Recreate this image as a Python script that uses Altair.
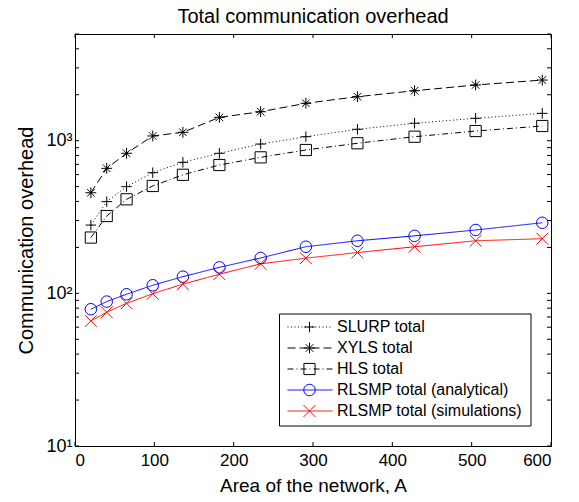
import altair as alt
import pandas as pd

# ---- data ----
area = [20, 40, 65, 98, 136, 182, 234, 291, 356, 428, 505, 589]
slurp = [280, 399, 500, 617, 722, 827, 951, 1062, 1188, 1301, 1402, 1511]
xyls = [456, 659, 827, 1074, 1135, 1422, 1548, 1758, 1942, 2125, 2317, 2496]
hls = [232, 321, 413, 505, 598, 693, 778, 869, 962, 1062, 1157, 1248]
rlsmp_an = [78.7, 88.3, 98.7, 113, 128.6, 148, 170.5, 202, 221, 238, 260, 290]
rlsmp_sim = [65.9, 75.2, 86, 99.5, 114.8, 133.5, 156, 170, 185, 202, 221, 228]

series = ["SLURP total", "XYLS total", "HLS total",
          "RLSMP total (analytical)", "RLSMP total (simulations)"]
legend_labels = ["SLURP total", "XYLS total", "\u00a0HLS total",
                 "RLSMP total (analytical)", "RLSMP total (simulations)"]
values = [slurp, xyls, hls, rlsmp_an, rlsmp_sim]

title_text = ["Total communication overhead"]

x_ticks = [0, 100, 200, 300, 400, 500, 600]
y_minor = [10, 20, 30, 40, 50, 60, 70, 80, 90,
           100, 200, 300, 400, 500, 600, 700, 800, 900,
           1000, 2000, 3000, 4000, 5000]

# ---- styles ----
colors = ["#000000", "#000000", "#000000", "#0000ff", "#ff0000"]
dashes = [[1, 2.5], [8, 4], [6, 3, 1, 3], [1, 0], [1, 0]]
plus = "M-1,0L1,0M0,-1L0,1"
star = "M-1,0L1,0M0,-1L0,1M-0.7,-0.7L0.7,0.7M-0.7,0.7L0.7,-0.7"
xmark = "M-1,-1L1,1M-1,1L1,-1"
shapes = [plus, star, "square", "circle", xmark]
sizes = [110, 140, 90, 160, 90]

W, H = 476, 412
FONT = "Liberation Sans"

rows = []
for s, vals in zip(series, values):
    for a, v in zip(area, vals):
        rows.append({"area": a, "value": v, "series": s})
df = pd.DataFrame(rows)

xscale = alt.Scale(domain=[0, 600], nice=False)
yscale = alt.Scale(type="log", domain=[10, 5000], nice=False)
cscale = alt.Scale(domain=series, range=colors)
dscale = alt.Scale(domain=series, range=dashes)
shscale = alt.Scale(domain=series, range=shapes)
szscale = alt.Scale(domain=series, range=sizes)

x_enc = alt.X("area:Q", scale=xscale,
              axis=alt.Axis(values=x_ticks, ticks=False, grid=False, domain=False,
                            labelFontSize=17, labelFont=FONT, labelColor="black",
                            labelPadding=6, title="Area of the network, A",
                            titleFontSize=19, titleFont=FONT, titleFontWeight="normal",
                            titleColor="black", titleX=W / 2, titleY=45,
                            titleBaseline="alphabetic"))
y_enc = alt.Y("value:Q", scale=yscale,
              axis=alt.Axis(values=[10, 100, 1000], ticks=False, grid=False, domain=False,
                            labelExpr="datum.value == 10 ? '10\u00b9' : datum.value == 100 ? '10\u00b2' : '10\u00b3'",
                            labelFontSize=18, labelFont=FONT, labelColor="black",
                            labelPadding=3, title="Communication overhead",
                            titleFontSize=20, titleFont=FONT, titleFontWeight="normal",
                            titleColor="black", titleX=-42.5, titleY=H / 2,
                            titleBaseline="alphabetic"))

base = alt.Chart(df)
lines = base.mark_line(strokeWidth=1).encode(
    x=x_enc, y=y_enc,
    color=alt.Color("series:N", scale=cscale, legend=None),
    strokeDash=alt.StrokeDash("series:N", scale=dscale, legend=None),
    detail="series:N",
)
points = base.mark_point(filled=False, strokeWidth=1, opacity=1).encode(
    x=alt.X("area:Q", scale=xscale),
    y=alt.Y("value:Q", scale=yscale),
    color=alt.Color("series:N", scale=cscale, legend=None),
    shape=alt.Shape("series:N", scale=shscale, legend=None),
    size=alt.Size("series:N", scale=szscale, legend=None),
)

# inward ticks (MATLAB style box)
ydf = pd.DataFrame({"tick": y_minor})
xdf = pd.DataFrame({"tick": x_ticks})
tk = 4
yt_left = alt.Chart(ydf).mark_rule(color="black", strokeWidth=1).encode(
    y=alt.Y("tick:Q", scale=yscale), x=alt.value(0), x2=alt.value(tk))
yt_right = alt.Chart(ydf).mark_rule(color="black", strokeWidth=1).encode(
    y=alt.Y("tick:Q", scale=yscale), x=alt.value(W - tk), x2=alt.value(W))
xt_bottom = alt.Chart(xdf).mark_rule(color="black", strokeWidth=1).encode(
    x=alt.X("tick:Q", scale=xscale), y=alt.value(H), y2=alt.value(H - tk))
xt_top = alt.Chart(xdf).mark_rule(color="black", strokeWidth=1).encode(
    x=alt.X("tick:Q", scale=xscale), y=alt.value(0), y2=alt.value(tk))

main = alt.layer(lines, points, yt_left, yt_right, xt_bottom, xt_top)

# ---- legend box ----
ldf = pd.DataFrame({"series": series, "label": legend_labels})
ly = alt.Y("series:N", sort=series,
           scale=alt.Scale(type="point", domain=series, range=[293, 377], padding=0),
           axis=None)
box = alt.Chart(pd.DataFrame({"k": [0]})).mark_rect(
    fill="white", stroke="black", strokeWidth=1).encode(
    x=alt.value(204.5), x2=alt.value(456), y=alt.value(280), y2=alt.value(392))
lrule = alt.Chart(ldf).mark_rule(strokeWidth=1).encode(
    x=alt.value(212.5), x2=alt.value(257.5), y=ly,
    color=alt.Color("series:N", scale=cscale, legend=None),
    strokeDash=alt.StrokeDash("series:N", scale=dscale, legend=None))
lpt = alt.Chart(ldf).mark_point(filled=False, strokeWidth=1, opacity=1).encode(
    x=alt.value(234.5), y=ly,
    color=alt.Color("series:N", scale=cscale, legend=None),
    shape=alt.Shape("series:N", scale=shscale, legend=None),
    size=alt.Size("series:N", scale=szscale, legend=None))
ltxt = alt.Chart(ldf).mark_text(align="left", baseline="middle", fontSize=16,
                                font=FONT, color="black").encode(
    x=alt.value(262), y=ly, text="label:N")

# chart title drawn as text above the plot frame
ttl = alt.Chart(pd.DataFrame({"t": title_text})).mark_text(
    align="center", baseline="alphabetic", fontSize=20, font=FONT, color="black").encode(
    x=alt.value(W / 2), y=alt.value(-11), text="t:N")

legend = alt.layer(box, lrule, lpt, ltxt, ttl)

chart = alt.layer(main, legend).resolve_scale(y="independent").properties(
    width=W, height=H,
    autosize=alt.AutoSizeParams(type="none"),
    padding={"left": 67, "top": 26, "right": 20, "bottom": 48},
).configure_view(stroke="black", strokeWidth=1)

chart.save("out.html", embed_options={"renderer": "svg", "actions": False})
